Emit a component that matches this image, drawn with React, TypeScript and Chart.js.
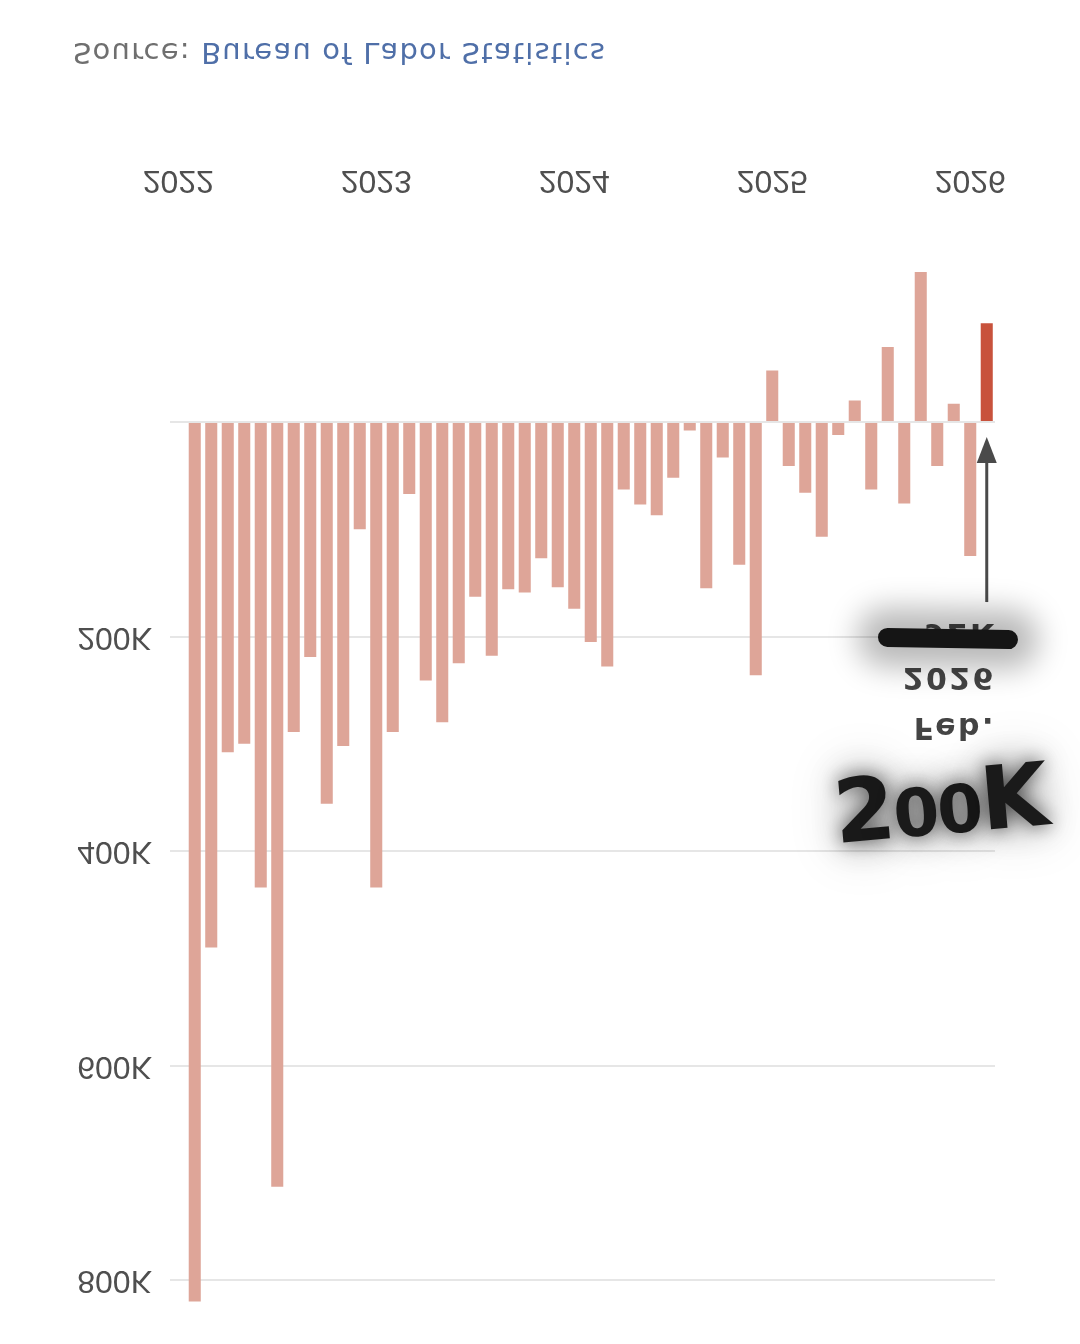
import React, { useEffect, useRef } from 'react';
import { Chart, registerables } from 'chart.js';

Chart.register(...registerables);

// Monthly categories (Jan 2022 slot is empty; data start Feb 2022)
const months = [
  '2022-01', '2022-02', '2022-03', '2022-04', '2022-05', '2022-06', '2022-07', '2022-08', '2022-09', '2022-10', '2022-11', '2022-12',
  '2023-01', '2023-02', '2023-03', '2023-04', '2023-05', '2023-06', '2023-07', '2023-08', '2023-09', '2023-10', '2023-11', '2023-12',
  '2024-01', '2024-02', '2024-03', '2024-04', '2024-05', '2024-06', '2024-07', '2024-08', '2024-09', '2024-10', '2024-11', '2024-12',
  '2025-01', '2025-02', '2025-03', '2025-04', '2025-05', '2025-06', '2025-07', '2025-08', '2025-09', '2025-10', '2025-11', '2025-12',
  '2026-01', '2026-02',
];

// Monthly job change, thousands
const jobsK = [
  null, 820, 490, 308, 300, 434, 713, 289, 219, 356, 302, 100,
  434, 289, 67, 241, 280, 225, 163, 218, 156, 159, 127, 154,
  174, 205, 228, 63, 77, 87, 52, 8, 155, 33, 133, 236,
  -48, 41, 66, 107, 12, -20, 63, -70, 76, -140, 41, -17,
  125, -92,
];

const highlightMonth = '2026-02';
const noteLines = ['Feb.', '2026'];
const yTicksK = [0, 200, 400, 600, 800];

const SALMON = '#dea598';
const RED = '#c8523c';
const TEXT = '#4f4f4f';

const notePlugin = {
  id: 'febNote',
  afterDatasetsDraw(chart: any) {
    const { ctx, scales } = chart;
    const xs = scales.x;
    const ys = scales.y;
    const i = months.indexOf(highlightMonth);
    const px = xs.getPixelForValue(i);
    const zero = ys.getPixelForValue(0);
    ctx.save();
    ctx.strokeStyle = '#4a4a4a';
    ctx.fillStyle = '#4a4a4a';
    ctx.lineWidth = 3;
    ctx.beginPath();
    ctx.moveTo(px, zero - 180);
    ctx.lineTo(px, zero - 40);
    ctx.stroke();
    ctx.beginPath();
    ctx.moveTo(px, zero - 15);
    ctx.lineTo(px - 10, zero - 41);
    ctx.lineTo(px + 10, zero - 41);
    ctx.closePath();
    ctx.fill();
    ctx.fillStyle = '#444';
    ctx.font = 'bold 30px "DejaVu Sans"';
    try { (ctx as any).letterSpacing = '2.4px'; } catch (e) {}
    ctx.textAlign = 'right';
    ctx.textBaseline = 'alphabetic';
    const tx = px + 9;
    const v = jobsK[i] as number;
    ctx.fillText(noteLines[0], tx, zero - 296);
    ctx.fillText(noteLines[1], tx, zero - 246);
    ctx.fillText((v < 0 ? '\u2212' : '+') + Math.abs(v) + 'K', tx, zero - 202);
    ctx.restore();
  },
};

export default function App() {
  const ref = useRef<HTMLCanvasElement>(null);

  useEffect(() => {
    if (!ref.current) return;
    const chart = new Chart(ref.current, {
      type: 'bar',
      data: {
        labels: months,
        datasets: [
          {
            data: jobsK as any,
            backgroundColor: months.map((m) => (m === highlightMonth ? RED : SALMON)),
            borderWidth: 0,
            categoryPercentage: 1,
            barPercentage: 0.73,
          },
        ],
      },
      options: {
        responsive: false,
        animation: false,
        devicePixelRatio: 1,
        layout: { padding: { top: 31.8, right: 85, bottom: 55, left: 0 } },
        plugins: { legend: { display: false }, tooltip: { enabled: false } },
        scales: {
          x: {
            type: 'category',
            grid: { display: false },
            border: { display: false },
            ticks: {
              autoSkip: false,
              maxRotation: 0,
              minRotation: 0,
              padding: 22,
              color: TEXT,
              font: { family: '"Liberation Sans", Arial, sans-serif', size: 32 },
              callback: (_v: any, i: number) => (months[i].endsWith('-01') ? months[i].slice(0, 4) : ''),
            },
            afterFit: (s: any) => {
              s.height = 70;
            },
          },
          y: {
            min: -180,
            max: 825,
            afterBuildTicks: (s: any) => {
              s.ticks = yTicksK.map((v) => ({ value: v }));
            },
            grid: { color: '#e6e6e6', lineWidth: 2, drawTicks: false },
            border: { display: false },
            ticks: {
              padding: 18,
              color: TEXT,
              font: { family: '"Liberation Sans", Arial, sans-serif', size: 32 },
              callback: (v: any) => (v === 0 ? '' : v + 'K'),
            },
            afterFit: (s: any) => {
              s.width = 170;
            },
          },
        },
      },
      plugins: [notePlugin],
    });
    return () => chart.destroy();
  }, []);

  const hand: React.CSSProperties = {
    fontFamily: '"DejaVu Sans", sans-serif',
    fontWeight: 'bold',
  };

  return (
    <>
      <div
        style={{
          position: 'absolute',
          left: 0,
          top: 0,
          width: 1080,
          height: 1344,
          background: '#fff',
          transform: 'scaleY(-1)',
          transformOrigin: 'center',
          overflow: 'hidden',
        }}
      >
        <canvas ref={ref} width={1080} height={1240} style={{ position: 'absolute', left: 0, top: 0, width: 1080, height: 1240 }} />
        <div
          style={{
            position: 'absolute',
            left: 73,
            top: 1274,
            fontFamily: '"DejaVu Sans", sans-serif',
            fontSize: 29,
            lineHeight: '34px',
            letterSpacing: '1.2px',
            whiteSpace: 'nowrap',
            color: '#6f6f6f',
          }}
        >
          Source: <span style={{ color: '#4f6fa8' }}>Bureau of Labor Statistics</span>
        </div>
      </div>
      <div
        style={{
          position: 'absolute',
          left: 878,
          top: 629,
          width: 140,
          height: 19,
          borderRadius: 10,
          background: '#151515',
          boxShadow: '0 0 30px 20px rgba(0,0,0,0.28)',
          transform: 'rotate(1deg)',
        }}
      />
      <div
        style={{
          position: 'absolute',
          left: 835,
          top: 768,
          lineHeight: '90px',
          letterSpacing: '-2px',
          color: '#1a1a1a',
          whiteSpace: 'nowrap',
          transform: 'rotate(-5deg)',
          transformOrigin: 'left center',
          textShadow: '0 0 18px rgba(0,0,0,0.55), 0 0 36px rgba(0,0,0,0.45), 0 0 56px rgba(0,0,0,0.3)',
        }}
      >
        <span style={{ ...hand, fontSize: 88 }}>2</span>
        <span style={{ ...hand, fontSize: 66 }}>00</span>
        <span style={{ ...hand, fontSize: 88 }}>K</span>
      </div>
    </>
  );
}
